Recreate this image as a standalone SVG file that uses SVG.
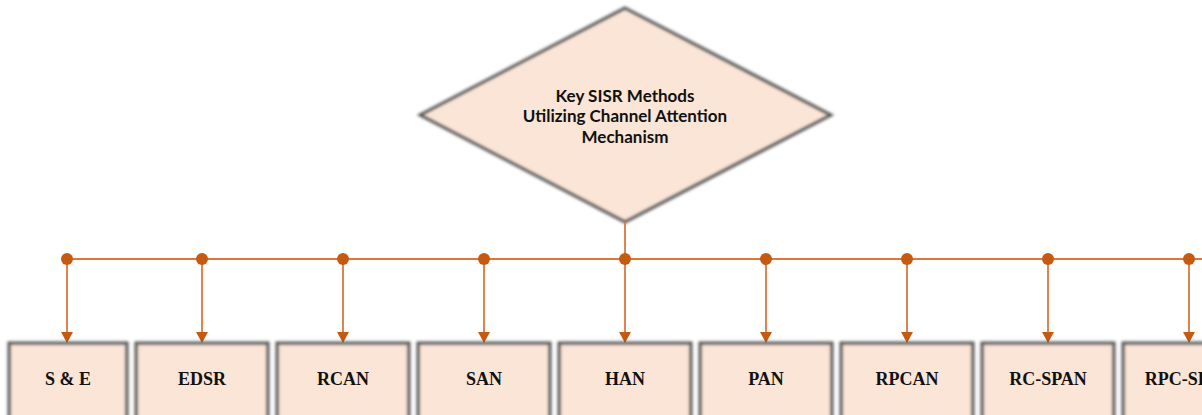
<svg xmlns="http://www.w3.org/2000/svg" width="1202" height="415" viewBox="0 0 1202 415">
  <style>
    .shape { fill: #FBE5D6; }
    .edge { fill: none; stroke: #555; stroke-width: 3; filter: url(#soft); }
    .title { font-family: Lato, "Open Sans", sans-serif; font-weight: bold; font-size: 17px; fill: #111; text-anchor: middle; }
    .label { font-family: "Liberation Serif", "Times New Roman", serif; font-weight: bold; font-size: 18px; fill: #111; text-anchor: middle; }
    .wire { fill: none; stroke: #D9783C; stroke-width: 1.8; }
    .dot { fill: #C55A11; }
  </style>
  <defs>
    <filter id="soft" x="-10%" y="-10%" width="120%" height="120%">
      <feGaussianBlur stdDeviation="1.4"/>
    </filter>
    <marker id="arrow" markerWidth="12" markerHeight="12" refX="10" refY="6" orient="auto" markerUnits="userSpaceOnUse">
      <path d="M0,0 L11,6 L0,12 Z" fill="#C55A11"/>
    </marker>
  </defs>

  <!-- root diamond -->
  <g id="root">
    <polygon class="shape" points="625,8 831,115 625,222 420,115"/>
    <polygon class="edge" points="625,8 831,115 625,222 420,115"/>
    <text class="title" x="625" y="102">Key SISR Methods</text>
    <text class="title" x="625" y="122">Utilizing Channel Attention</text>
    <text class="title" x="625" y="143">Mechanism</text>
  </g>

  <!-- connectors -->
  <g id="connectors">
    <line class="wire" x1="625" y1="222" x2="625" y2="259"/>
    <line class="wire" x1="67" y1="259" x2="1202" y2="259"/>
    <g marker-end="url(#arrow)">
      <line class="wire" x1="67" y1="259" x2="67" y2="342"/>
      <line class="wire" x1="202" y1="259" x2="202" y2="342"/>
      <line class="wire" x1="343" y1="259" x2="343" y2="342"/>
      <line class="wire" x1="484" y1="259" x2="484" y2="342"/>
      <line class="wire" x1="625" y1="259" x2="625" y2="342"/>
      <line class="wire" x1="766" y1="259" x2="766" y2="342"/>
      <line class="wire" x1="907" y1="259" x2="907" y2="342"/>
      <line class="wire" x1="1048" y1="259" x2="1048" y2="342"/>
      <line class="wire" x1="1189" y1="259" x2="1189" y2="342"/>
    </g>
    <circle class="dot" cx="67" cy="259" r="6"/>
    <circle class="dot" cx="202" cy="259" r="6"/>
    <circle class="dot" cx="343" cy="259" r="6"/>
    <circle class="dot" cx="484" cy="259" r="6"/>
    <circle class="dot" cx="625" cy="259" r="6"/>
    <circle class="dot" cx="766" cy="259" r="6"/>
    <circle class="dot" cx="907" cy="259" r="6"/>
    <circle class="dot" cx="1048" cy="259" r="6"/>
    <circle class="dot" cx="1189" cy="259" r="6"/>
  </g>

  <!-- method boxes -->
  <g id="se">
    <rect class="shape" x="9" y="343" width="118" height="80"/>
    <rect class="edge" x="9" y="343" width="118" height="80"/>
    <text class="label" x="68" y="385">S &amp; E</text>
  </g>
  <g id="edsr">
    <rect class="shape" x="136" y="343" width="132" height="80"/>
    <rect class="edge" x="136" y="343" width="132" height="80"/>
    <text class="label" x="202" y="385">EDSR</text>
  </g>
  <g id="rcan">
    <rect class="shape" x="277" y="343" width="132" height="80"/>
    <rect class="edge" x="277" y="343" width="132" height="80"/>
    <text class="label" x="343" y="385">RCAN</text>
  </g>
  <g id="san">
    <rect class="shape" x="418" y="343" width="132" height="80"/>
    <rect class="edge" x="418" y="343" width="132" height="80"/>
    <text class="label" x="484" y="385">SAN</text>
  </g>
  <g id="han">
    <rect class="shape" x="559" y="343" width="132" height="80"/>
    <rect class="edge" x="559" y="343" width="132" height="80"/>
    <text class="label" x="625" y="385">HAN</text>
  </g>
  <g id="pan">
    <rect class="shape" x="700" y="343" width="132" height="80"/>
    <rect class="edge" x="700" y="343" width="132" height="80"/>
    <text class="label" x="766" y="385">PAN</text>
  </g>
  <g id="rpcan">
    <rect class="shape" x="841" y="343" width="132" height="80"/>
    <rect class="edge" x="841" y="343" width="132" height="80"/>
    <text class="label" x="907" y="385">RPCAN</text>
  </g>
  <g id="rc-span">
    <rect class="shape" x="982" y="343" width="132" height="80"/>
    <rect class="edge" x="982" y="343" width="132" height="80"/>
    <text class="label" x="1048" y="385">RC-SPAN</text>
  </g>
  <g id="rpc-span">
    <rect class="shape" x="1123" y="343" width="132" height="80"/>
    <rect class="edge" x="1123" y="343" width="132" height="80"/>
    <text class="label" x="1189" y="385">RPC-SPAN</text>
  </g>
</svg>
